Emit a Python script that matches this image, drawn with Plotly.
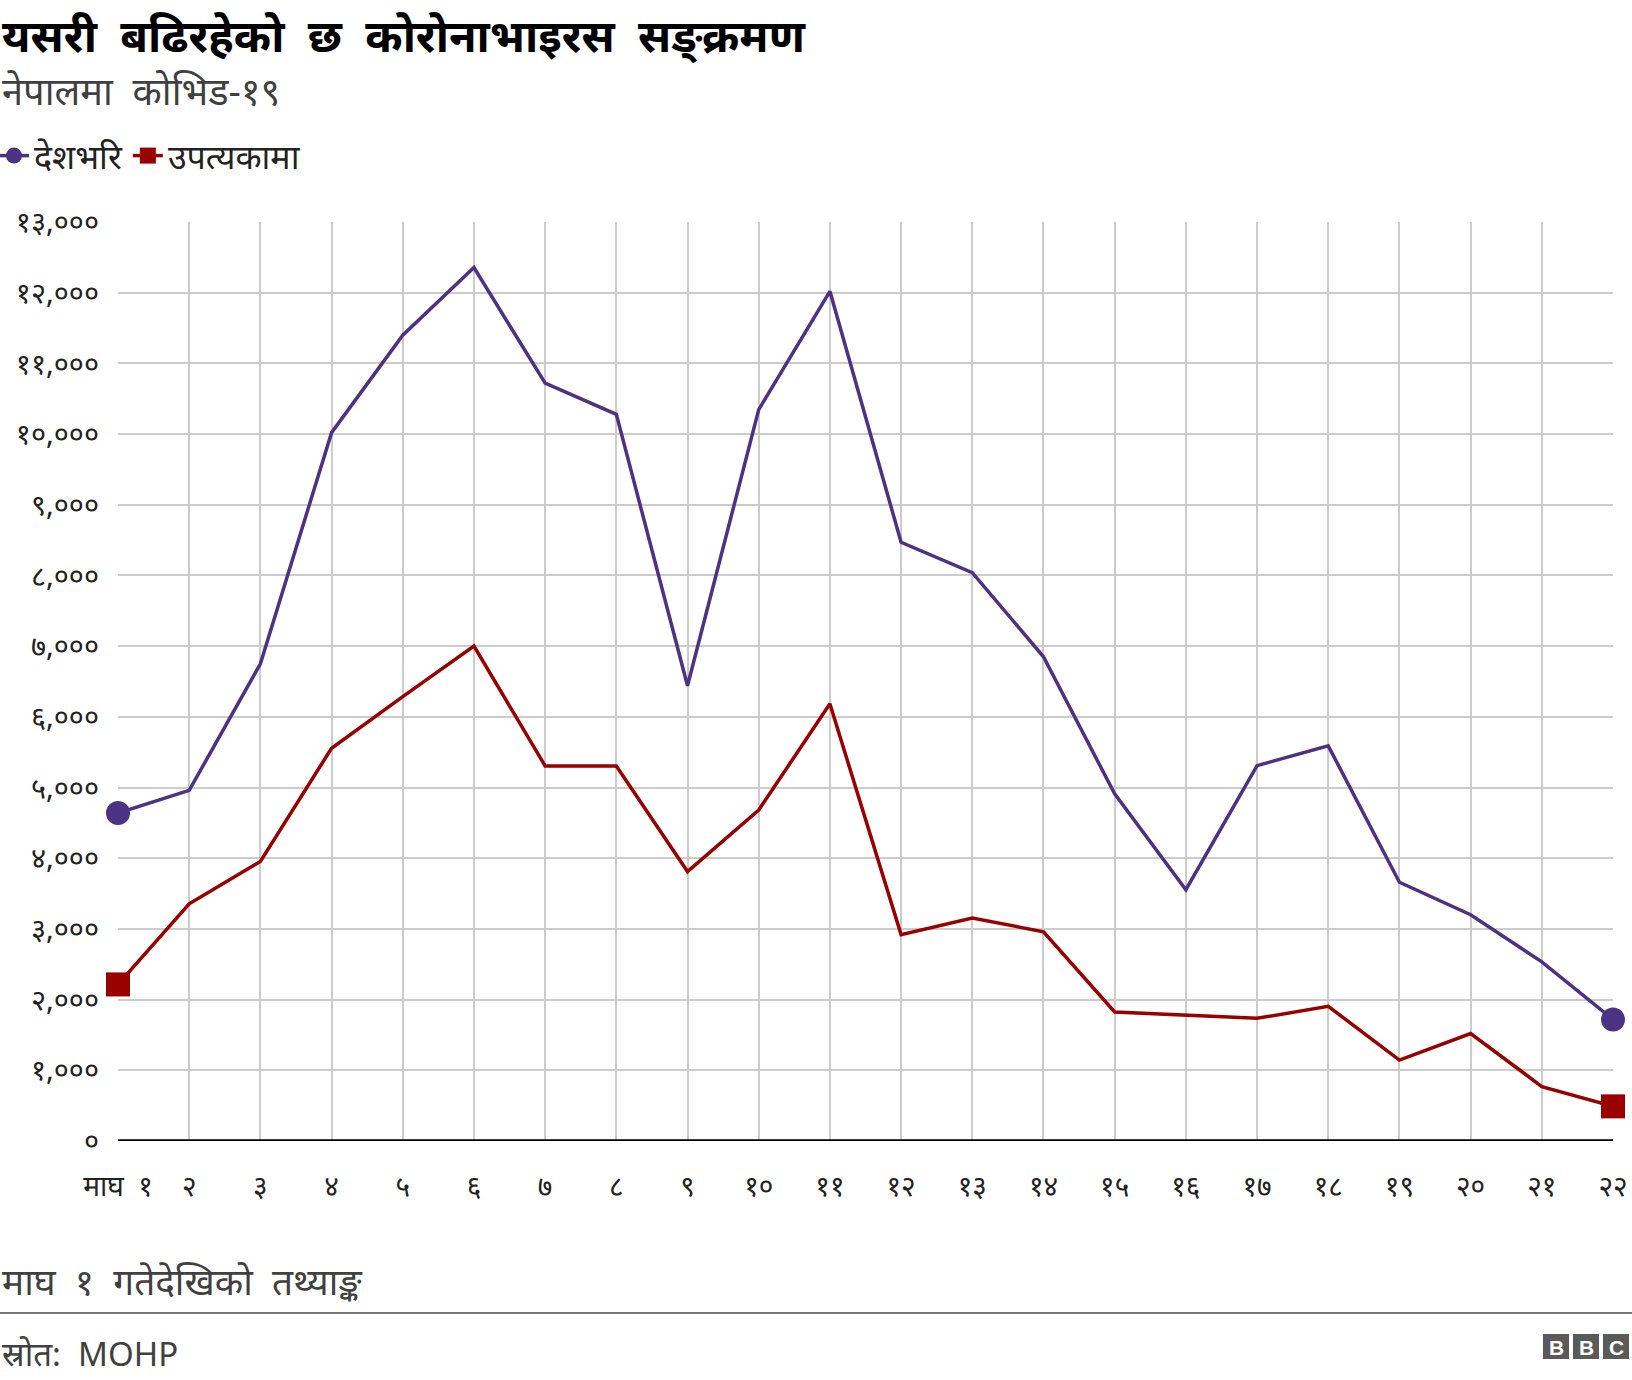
import plotly.graph_objects as go

days = list(range(1, 23))
day_labels = ["माघ\u00a0\u00a0१", "२", "३", "४", "५", "६", "७", "८", "९", "१०", "११",
              "१२", "१३", "१४", "१५", "१६", "१७", "१८", "१९", "२०", "२१", "२२"]
nationwide = [4640, 4960, 6750, 10020, 11400, 12357, 10720, 10280, 6440, 10346, 12020,
              8470, 8040, 6850, 4910, 3555, 5310, 5590, 3660, 3200, 2535, 1720]
valley = [2215, 3355, 3955, 5556, 6285, 7000, 5306, 5306, 3812, 4682, 6184,
          2920, 3155, 2960, 1825, 1785, 1735, 1905, 1145, 1520, 770, 490]
y_tickvals = [0, 1000, 2000, 3000, 4000, 5000, 6000, 7000, 8000, 9000, 10000, 11000, 12000, 13000]
y_ticktext = ["०", "१,०००", "२,०००", "३,०००", "४,०००", "५,०००", "६,०००", "७,०००",
              "८,०००", "९,०००", "१०,०००", "११,०००", "१२,०००", "१३,०००"]
name_nat = "देशभरि"
name_val = "उपत्यकामा"
title = "यसरी बढिरहेको छ कोरोनाभाइरस सङ्क्रमण"
subtitle = "नेपालमा कोभिड-१९"
note = "माघ १ गतेदेखिको तथ्याङ्क"
source = "स्रोत: MOHP"

PURPLE = "#4c3283"
RED = "#990000"
FONT = "Noto Sans, sans-serif"

L, R, T, B = 118, 19, 222, 239
W, H = 1632, 1380
PW, PH = W - L - R, H - T - B


def px(x):
    return (x - L) / PW


def py(y):
    return (H - B - y) / PH


def wide(s):
    return s.replace(" ", "\u00a0\u00a0")


fig = go.Figure()
fig.add_trace(go.Scatter(x=[None], y=[None], mode="lines+markers", name=name_nat,
                         line=dict(color=PURPLE, width=3.5),
                         marker=dict(symbol="circle", size=22, color=PURPLE)))
fig.add_trace(go.Scatter(x=[None], y=[None], mode="lines+markers", name=name_val,
                         line=dict(color=RED, width=3.5),
                         marker=dict(symbol="square", size=22, color=RED)))
fig.add_trace(go.Scatter(x=days, y=nationwide, mode="lines", showlegend=False,
                         line=dict(color=PURPLE, width=3.5), cliponaxis=False))
fig.add_trace(go.Scatter(x=days, y=valley, mode="lines", showlegend=False,
                         line=dict(color=RED, width=3.5), cliponaxis=False))
fig.add_trace(go.Scatter(x=[days[0], days[-1]], y=[nationwide[0], nationwide[-1]], mode="markers",
                         showlegend=False, cliponaxis=False,
                         marker=dict(symbol="circle", size=24, color=PURPLE)))
fig.add_trace(go.Scatter(x=[days[0], days[-1]], y=[valley[0], valley[-1]], mode="markers",
                         showlegend=False, cliponaxis=False,
                         marker=dict(symbol="square", size=24, color=RED)))

fig.update_layout(
    width=W, height=H,
    margin=dict(l=L, r=R, t=T, b=B, autoexpand=False),
    paper_bgcolor="white", plot_bgcolor="white",
    font=dict(family=FONT, color="#222222", size=20),
    showlegend=True,
    legend=dict(orientation="h", x=px(-6), y=py(156), xanchor="left", yanchor="middle",
                font=dict(size=34, color="#222222"), bgcolor="rgba(0,0,0,0)"),
    xaxis=dict(range=[1, 22], tickvals=days, ticktext=day_labels, showgrid=True, automargin=False,
               gridcolor="#cccccc", gridwidth=1.5, zeroline=False, showline=False,
               tickfont=dict(size=28, color="#222222"), ticks="", ticklabelstandoff=26),
    yaxis=dict(range=[0, 13000], tickvals=y_tickvals, ticktext=y_ticktext, showgrid=True,
               automargin=False,
               gridcolor="#cccccc", gridwidth=1.5, zeroline=False, showline=False,
               tickfont=dict(size=29, color="#222222"), ticks="", ticklabelstandoff=18),
    shapes=[
        dict(type="line", xref="paper", yref="y", x0=0, x1=1, y0=0, y1=0,
             line=dict(color="#000000", width=3.5)),
        dict(type="line", xref="paper", yref="paper", x0=px(0), x1=px(W),
             y0=py(1313), y1=py(1313), line=dict(color="#777777", width=2)),
    ],
    annotations=[
        dict(text="<b>" + wide(title) + "</b>", xref="paper", yref="paper", x=px(0), y=py(34),
             xanchor="left", yanchor="middle", showarrow=False,
             font=dict(size=45, color="#000000")),
        dict(text=wide(subtitle), xref="paper", yref="paper", x=px(0), y=py(90),
             xanchor="left", yanchor="middle", showarrow=False,
             font=dict(size=38, color="#404040")),
        dict(text=wide(note), xref="paper", yref="paper", x=px(0), y=py(1280),
             xanchor="left", yanchor="middle", showarrow=False,
             font=dict(size=37, color="#404040")),
        dict(text=wide(source), xref="paper", yref="paper", x=px(0), y=py(1353),
             xanchor="left", yanchor="middle", showarrow=False,
             font=dict(size=33, color="#404040")),
    ],
)

for i, letter in enumerate(["B", "B", "C"]):
    x0 = 1543 + i * 30
    fig.add_shape(type="rect", xref="paper", yref="paper",
                  x0=px(x0), x1=px(x0 + 26), y0=py(1359), y1=py(1334),
                  fillcolor="#5a5a5a", line=dict(width=0))
    fig.add_annotation(text="<b>" + letter + "</b>", xref="paper", yref="paper",
                       x=px(x0 + 13), y=py(1347), showarrow=False,
                       xanchor="center", yanchor="middle",
                       font=dict(family="Arial, Liberation Sans, sans-serif", size=21, color="white"))

fig.write_html("out.html")
